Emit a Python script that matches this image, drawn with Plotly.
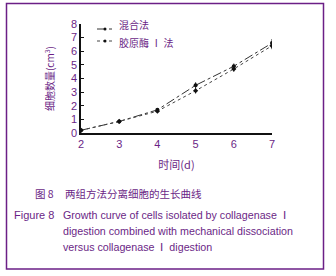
import plotly.graph_objects as go

days = [2, 3, 4, 5, 6, 7]
mixed = [0.2, 0.85, 1.7, 3.5, 4.9, 6.6]
mixed_err = [0.05, 0.08, 0.12, 0.22, 0.2, 0.3]
colla = [0.2, 0.85, 1.6, 3.1, 4.7, 6.4]
colla_err = [0.05, 0.08, 0.1, 0.2, 0.2, 0.25]
x_ticks = [2, 3, 4, 5, 6, 7]
y_ticks = [0, 1, 2, 3, 4, 5, 6, 7, 8]
series_names = ["混合法", "胶原酶 Ⅰ 法"]

PURPLE = "#6b1f86"
W, H = 336, 276
L, R, T, B = 81, 272, 24, 133


def px(x):
    return (x - L) / (R - L)


def py(y):
    return (B - y) / (B - T)


styles = [
    dict(dash="dashdot", color="#333", symbol="circle"),
    dict(dash="dot", color="#444", symbol="diamond"),
]

fig = go.Figure()
for name, vals, errs, st in zip(series_names, [mixed, colla], [mixed_err, colla_err], styles):
    fig.add_trace(go.Scatter(
        x=days, y=vals, name=name, mode="lines+markers",
        line=dict(color=st["color"], width=1, dash=st["dash"]),
        marker=dict(size=4, color="#111", symbol=st["symbol"]),
        error_y=dict(type="data", array=errs, color="#222", thickness=1, width=0),
        showlegend=False,
    ))

cjk = "Noto Sans CJK SC"
en = "Liberation Sans, Arial"

fig.update_layout(
    width=W, height=H,
    margin=dict(l=L, r=W - R, t=T, b=H - B, autoexpand=False),
    paper_bgcolor="white", plot_bgcolor="white",
    showlegend=False,
    xaxis=dict(range=[2, 7], tickvals=x_ticks, showline=True, linecolor="#111", linewidth=1.5,
               showgrid=False, zeroline=False, ticks="", ticklen=0, automargin=False,
               tickfont=dict(family=en, size=11, color=PURPLE),
               title=dict(text="时间(d)", font=dict(family=cjk, size=11, color=PURPLE), standoff=12)),
    yaxis=dict(range=[0, 8], tickvals=y_ticks, showline=True, linecolor="#111", linewidth=1.5,
               showgrid=False, zeroline=False, ticks="inside", ticklen=3, tickcolor="#111",
               automargin=False,
               tickfont=dict(family=en, size=11, color=PURPLE),
               title=dict(text="细胞数量(cm<sup>3</sup>)", font=dict(family=cjk, size=10, color=PURPLE), standoff=14)),
)

# frame border
fig.add_shape(type="rect", xref="paper", yref="paper",
              x0=px(6.5), x1=px(323.5), y0=py(269), y1=py(3.5),
              line=dict(color=PURPLE, width=1.5), layer="below")

# legend (manual)
leg_y_line = [29, 41]
leg_y_text = [25, 42]
for name, st, yl, yt in zip(series_names, styles, leg_y_line, leg_y_text):
    fig.add_shape(type="line", xref="paper", yref="paper",
                  x0=px(97), x1=px(113), y0=py(yl), y1=py(yl),
                  line=dict(color=st["color"], width=1, dash=st["dash"]))
    fig.add_annotation(text=name, xref="paper", yref="paper", x=px(117), y=py(yt),
                       xanchor="left", yanchor="middle", showarrow=False,
                       font=dict(family=cjk, size=10, color=PURPLE))
    fig.add_shape(type="circle", xref="paper", yref="paper",
                  x0=px(103.5), x1=px(106.5), y0=py(yl + 1.5), y1=py(yl - 1.5),
                  fillcolor="#111", line=dict(width=0))

ann = [
    ("图 8", 33, 193, cjk, 10.5),
    ("两组方法分离细胞的生长曲线", 63, 193, cjk, 10.5),
    ("Figure 8", 12, 215, en, 11),
    ("Growth curve of cells isolated by collagenase  Ⅰ", 61, 215, en, 10.7),
    ("digestion combined with mechanical dissociation", 61, 231, en, 10.7),
    ("versus collagenase  Ⅰ  digestion", 61, 247, en, 10.7),
]
for text, x, y, fam, sz in ann:
    fig.add_annotation(text=text, xref="paper", yref="paper", x=px(x), y=py(y),
                       xanchor="left", yanchor="middle", showarrow=False,
                       font=dict(family=fam, size=sz, color=PURPLE))

fig.write_html("out.html", config={"displayModeBar": False},
               post_script="document.body.style.margin='0';document.body.style.padding='0';")
